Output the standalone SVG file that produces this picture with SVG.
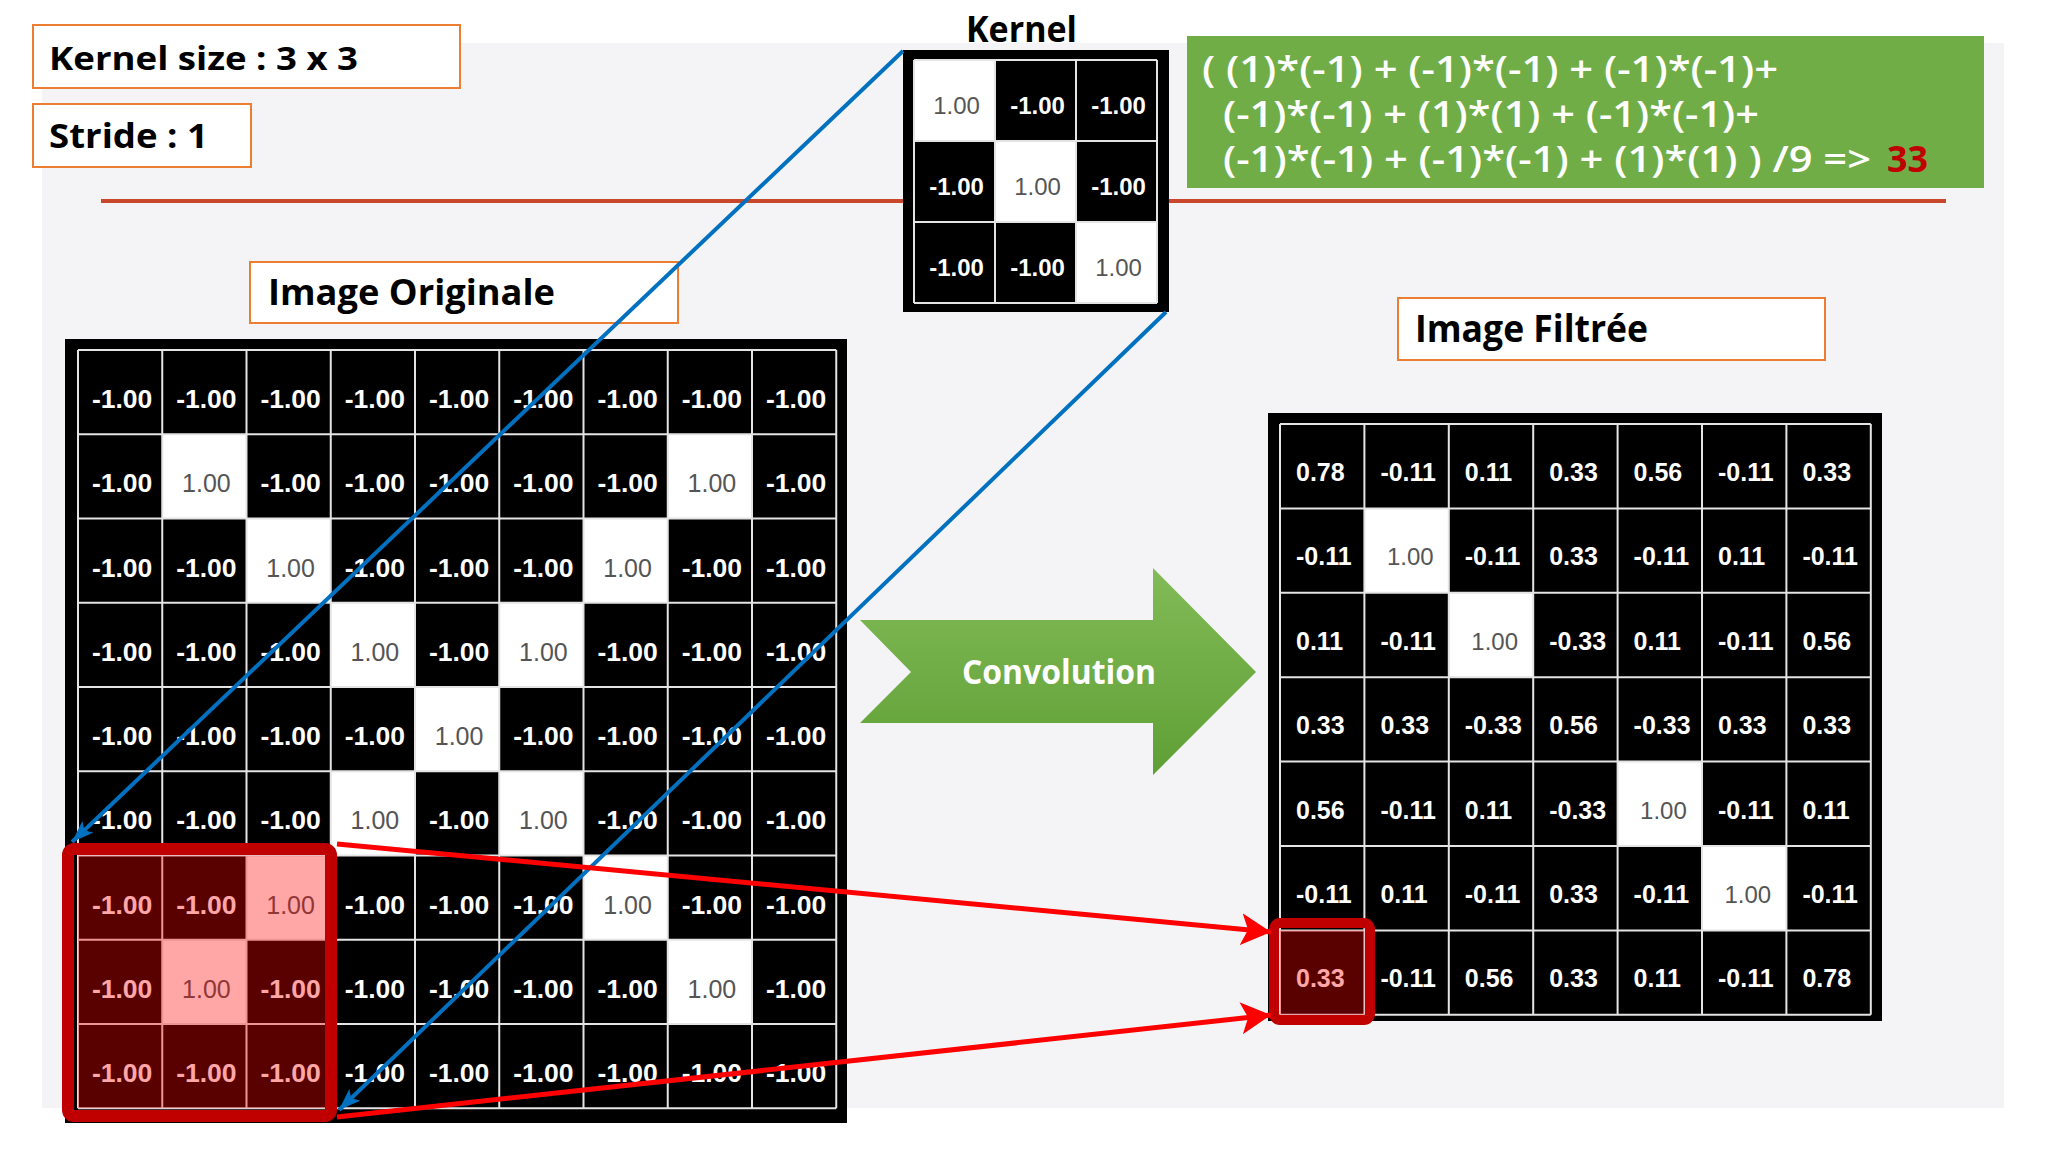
<svg xmlns="http://www.w3.org/2000/svg" width="2048" height="1152" viewBox="0 0 2048 1152">
<style>
.lbl{fill:#fff;stroke:#ED7D31;stroke-width:2}
.lbltxt{font-family:"Open Sans","Noto Sans",sans-serif;font-weight:700;fill:#000}
.blk{fill:#000}
.wht{fill:#fff}
.gl{fill:none;stroke:#e4e4e4;stroke-width:2}
.n{font-family:"Liberation Sans",Arial,sans-serif;font-weight:700;fill:#fff;text-anchor:middle;font-size:26.5px}
.p{font-family:"Liberation Sans",Arial,sans-serif;font-weight:400;fill:#555;text-anchor:middle;font-size:25px}
.kn{font-family:"Liberation Sans",Arial,sans-serif;font-weight:700;fill:#fff;text-anchor:middle;font-size:24px}
.kp{font-family:"Liberation Sans",Arial,sans-serif;font-weight:400;fill:#555;text-anchor:middle;font-size:24px}
.fn{font-family:"Liberation Sans",Arial,sans-serif;font-weight:700;fill:#fff;font-size:25px}
.fp{font-family:"Liberation Sans",Arial,sans-serif;font-weight:400;fill:#555;font-size:24px}
.ovl{fill:#FF0000;fill-opacity:0.35}
.hbox{fill:none;stroke:#C00000}
.ftxt{font-family:"Open Sans","Noto Sans",sans-serif;font-weight:600;fill:#fff;font-size:36px}
.blue{fill:none;stroke:#0070C0;stroke-width:4}
.red{fill:none;stroke:#FF0000;stroke-width:5}
</style>
<defs>
<linearGradient id="gArrow" x1="0" y1="0" x2="0" y2="1">
<stop offset="0" stop-color="#82BB58"/>
<stop offset="1" stop-color="#5F9F35"/>
</linearGradient>
<marker id="ahRed" viewBox="0 0 30 32" refX="30" refY="16" markerWidth="30" markerHeight="32" markerUnits="userSpaceOnUse" orient="auto">
<path d="M0,0 L30,16 L0,32 L7,16 Z" fill="#FF0000"/>
</marker>
<marker id="ahBlue" viewBox="0 0 22 16" refX="22" refY="8" markerWidth="22" markerHeight="16" markerUnits="userSpaceOnUse" orient="auto">
<path d="M0,0 L22,8 L0,16 L5,8 Z" fill="#0070C0"/>
</marker>
</defs>

<rect x="0" y="0" width="2048" height="1152" fill="#ffffff"/>
<rect id="panel" x="42" y="43" width="1962" height="1065" fill="#F4F4F6"/>
<line id="separator" x1="101" y1="201" x2="1946" y2="201" stroke="#C9472A" stroke-width="4"/>

<g id="kernel-size">
<rect class="lbl" x="33" y="25" width="427" height="63"/>
<text class="lbltxt" x="49" y="70" font-size="33" textLength="309" lengthAdjust="spacingAndGlyphs">Kernel size : 3 x 3</text>
</g>
<g id="stride">
<rect class="lbl" x="33" y="104" width="218" height="63"/>
<text class="lbltxt" x="49" y="148" font-size="34" textLength="159" lengthAdjust="spacingAndGlyphs">Stride : 1</text>
</g>

<g id="kernel">
<text class="lbltxt" x="966" y="42" font-size="35" textLength="111" lengthAdjust="spacingAndGlyphs">Kernel</text>
<rect class="blk" x="903" y="50" width="266" height="262"/>
<rect class="wht" x="914" y="60" width="81" height="81"/>
<rect class="wht" x="995" y="141" width="81" height="81"/>
<rect class="wht" x="1076" y="222" width="81" height="81"/>
<path class="gl" d="M914 60V303M995 60V303M1076 60V303M1157 60V303M914 60H1157M914 141H1157M914 222H1157M914 303H1157"/>
<text class="kp" x="956.5" y="113.5">1.00</text>
<text class="kn" x="1037.5" y="113.5">-1.00</text>
<text class="kn" x="1118.5" y="113.5">-1.00</text>
<text class="kn" x="956.5" y="194.5">-1.00</text>
<text class="kp" x="1037.5" y="194.5">1.00</text>
<text class="kn" x="1118.5" y="194.5">-1.00</text>
<text class="kn" x="956.5" y="275.5">-1.00</text>
<text class="kn" x="1037.5" y="275.5">-1.00</text>
<text class="kp" x="1118.5" y="275.5">1.00</text>
</g>

<g id="formula">
<rect x="1187" y="36" width="797" height="152" fill="#70AD47"/>
<text class="ftxt" x="1202" y="82" textLength="576" lengthAdjust="spacingAndGlyphs">( (1)*(-1) + (-1)*(-1) + (-1)*(-1)+</text>
<text class="ftxt" x="1223" y="127" textLength="536" lengthAdjust="spacingAndGlyphs">(-1)*(-1) + (1)*(1) + (-1)*(-1)+</text>
<text class="ftxt" x="1223" y="172" textLength="648" lengthAdjust="spacingAndGlyphs">(-1)*(-1) + (-1)*(-1) + (1)*(1) ) /9 =&gt;</text>
<text x="1887" y="172" font-family="Open Sans, Noto Sans, sans-serif" font-weight="700" font-size="36" fill="#C00000" textLength="41" lengthAdjust="spacingAndGlyphs">33</text>
</g>

<g id="image-originale-label">
<rect class="lbl" x="250" y="262" width="428" height="61"/>
<text class="lbltxt" x="268" y="305" font-size="36" textLength="287" lengthAdjust="spacingAndGlyphs">Image Originale</text>
</g>

<g id="image-originale">
<rect class="blk" x="65" y="339" width="782" height="784"/>
<rect class="wht" x="162.25" y="434.25" width="84.25" height="84.25"/>
<rect class="wht" x="667.75" y="434.25" width="84.25" height="84.25"/>
<rect class="wht" x="246.5" y="518.5" width="84.25" height="84.25"/>
<rect class="wht" x="583.5" y="518.5" width="84.25" height="84.25"/>
<rect class="wht" x="330.75" y="602.75" width="84.25" height="84.25"/>
<rect class="wht" x="499.25" y="602.75" width="84.25" height="84.25"/>
<rect class="wht" x="415" y="687" width="84.25" height="84.25"/>
<rect class="wht" x="330.75" y="771.25" width="84.25" height="84.25"/>
<rect class="wht" x="499.25" y="771.25" width="84.25" height="84.25"/>
<rect class="wht" x="246.5" y="855.5" width="84.25" height="84.25"/>
<rect class="wht" x="583.5" y="855.5" width="84.25" height="84.25"/>
<rect class="wht" x="162.25" y="939.75" width="84.25" height="84.25"/>
<rect class="wht" x="667.75" y="939.75" width="84.25" height="84.25"/>
<path class="gl" d="M78 350V1108.25M162.25 350V1108.25M246.5 350V1108.25M330.75 350V1108.25M415 350V1108.25M499.25 350V1108.25M583.5 350V1108.25M667.75 350V1108.25M752 350V1108.25M836.25 350V1108.25M78 350H836.25M78 434.25H836.25M78 518.5H836.25M78 602.75H836.25M78 687H836.25M78 771.25H836.25M78 855.5H836.25M78 939.75H836.25M78 1024H836.25M78 1108.25H836.25"/>
<!-- row 0 -->
<text class="n" x="122.1" y="408">-1.00</text><text class="n" x="206.4" y="408">-1.00</text><text class="n" x="290.6" y="408">-1.00</text><text class="n" x="374.9" y="408">-1.00</text><text class="n" x="459.1" y="408">-1.00</text><text class="n" x="543.4" y="408">-1.00</text><text class="n" x="627.6" y="408">-1.00</text><text class="n" x="711.9" y="408">-1.00</text><text class="n" x="796.1" y="408">-1.00</text>
<!-- row 1 -->
<text class="n" x="122.1" y="492.3">-1.00</text><text class="p" x="206.4" y="492.3">1.00</text><text class="n" x="290.6" y="492.3">-1.00</text><text class="n" x="374.9" y="492.3">-1.00</text><text class="n" x="459.1" y="492.3">-1.00</text><text class="n" x="543.4" y="492.3">-1.00</text><text class="n" x="627.6" y="492.3">-1.00</text><text class="p" x="711.9" y="492.3">1.00</text><text class="n" x="796.1" y="492.3">-1.00</text>
<!-- row 2 -->
<text class="n" x="122.1" y="576.5">-1.00</text><text class="n" x="206.4" y="576.5">-1.00</text><text class="p" x="290.6" y="576.5">1.00</text><text class="n" x="374.9" y="576.5">-1.00</text><text class="n" x="459.1" y="576.5">-1.00</text><text class="n" x="543.4" y="576.5">-1.00</text><text class="p" x="627.6" y="576.5">1.00</text><text class="n" x="711.9" y="576.5">-1.00</text><text class="n" x="796.1" y="576.5">-1.00</text>
<!-- row 3 -->
<text class="n" x="122.1" y="660.8">-1.00</text><text class="n" x="206.4" y="660.8">-1.00</text><text class="n" x="290.6" y="660.8">-1.00</text><text class="p" x="374.9" y="660.8">1.00</text><text class="n" x="459.1" y="660.8">-1.00</text><text class="p" x="543.4" y="660.8">1.00</text><text class="n" x="627.6" y="660.8">-1.00</text><text class="n" x="711.9" y="660.8">-1.00</text><text class="n" x="796.1" y="660.8">-1.00</text>
<!-- row 4 -->
<text class="n" x="122.1" y="745">-1.00</text><text class="n" x="206.4" y="745">-1.00</text><text class="n" x="290.6" y="745">-1.00</text><text class="n" x="374.9" y="745">-1.00</text><text class="p" x="459.1" y="745">1.00</text><text class="n" x="543.4" y="745">-1.00</text><text class="n" x="627.6" y="745">-1.00</text><text class="n" x="711.9" y="745">-1.00</text><text class="n" x="796.1" y="745">-1.00</text>
<!-- row 5 -->
<text class="n" x="122.1" y="829.3">-1.00</text><text class="n" x="206.4" y="829.3">-1.00</text><text class="n" x="290.6" y="829.3">-1.00</text><text class="p" x="374.9" y="829.3">1.00</text><text class="n" x="459.1" y="829.3">-1.00</text><text class="p" x="543.4" y="829.3">1.00</text><text class="n" x="627.6" y="829.3">-1.00</text><text class="n" x="711.9" y="829.3">-1.00</text><text class="n" x="796.1" y="829.3">-1.00</text>
<!-- row 6 -->
<text class="n" x="122.1" y="913.5">-1.00</text><text class="n" x="206.4" y="913.5">-1.00</text><text class="p" x="290.6" y="913.5">1.00</text><text class="n" x="374.9" y="913.5">-1.00</text><text class="n" x="459.1" y="913.5">-1.00</text><text class="n" x="543.4" y="913.5">-1.00</text><text class="p" x="627.6" y="913.5">1.00</text><text class="n" x="711.9" y="913.5">-1.00</text><text class="n" x="796.1" y="913.5">-1.00</text>
<!-- row 7 -->
<text class="n" x="122.1" y="997.8">-1.00</text><text class="p" x="206.4" y="997.8">1.00</text><text class="n" x="290.6" y="997.8">-1.00</text><text class="n" x="374.9" y="997.8">-1.00</text><text class="n" x="459.1" y="997.8">-1.00</text><text class="n" x="543.4" y="997.8">-1.00</text><text class="n" x="627.6" y="997.8">-1.00</text><text class="p" x="711.9" y="997.8">1.00</text><text class="n" x="796.1" y="997.8">-1.00</text>
<!-- row 8 -->
<text class="n" x="122.1" y="1082">-1.00</text><text class="n" x="206.4" y="1082">-1.00</text><text class="n" x="290.6" y="1082">-1.00</text><text class="n" x="374.9" y="1082">-1.00</text><text class="n" x="459.1" y="1082">-1.00</text><text class="n" x="543.4" y="1082">-1.00</text><text class="n" x="627.6" y="1082">-1.00</text><text class="n" x="711.9" y="1082">-1.00</text><text class="n" x="796.1" y="1082">-1.00</text>
<!-- highlighted window -->
<rect class="ovl" x="78" y="855.5" width="252.75" height="252.75"/>
<rect class="hbox" x="68" y="849" width="263" height="267" rx="6" stroke-width="12"/>
</g>

<g id="convolution-arrow">
<polygon points="860,620 1153,620 1153,568 1256,672 1153,775 1153,723 860,723 911,672" fill="url(#gArrow)"/>
<text class="lbltxt" x="962" y="684" font-size="34" style="fill:#fff" textLength="194" lengthAdjust="spacingAndGlyphs">Convolution</text>
</g>

<g id="image-filtree-label">
<rect class="lbl" x="1398" y="298" width="427" height="62"/>
<text class="lbltxt" x="1415" y="342" font-size="37" textLength="233" lengthAdjust="spacingAndGlyphs">Image Filtrée</text>
</g>

<g id="image-filtree">
<rect class="blk" x="1268" y="413" width="614" height="608"/>
<rect class="wht" x="1364.4" y="508.4" width="84.4" height="84.4"/>
<rect class="wht" x="1448.8" y="592.8" width="84.4" height="84.4"/>
<rect class="wht" x="1617.6" y="761.6" width="84.4" height="84.4"/>
<rect class="wht" x="1702" y="846" width="84.4" height="84.4"/>
<path class="gl" d="M1280 424V1014.8M1364.4 424V1014.8M1448.8 424V1014.8M1533.2 424V1014.8M1617.6 424V1014.8M1702 424V1014.8M1786.4 424V1014.8M1870.8 424V1014.8M1280 424H1870.8M1280 508.4H1870.8M1280 592.8H1870.8M1280 677.2H1870.8M1280 761.6H1870.8M1280 846H1870.8M1280 930.4H1870.8M1280 1014.8H1870.8"/>
<!-- row 0 -->
<text class="fn" x="1296" y="481">0.78</text><text class="fn" x="1380.4" y="481">-0.11</text><text class="fn" x="1464.8" y="481">0.11</text><text class="fn" x="1549.2" y="481">0.33</text><text class="fn" x="1633.6" y="481">0.56</text><text class="fn" x="1718" y="481">-0.11</text><text class="fn" x="1802.4" y="481">0.33</text>
<!-- row 1 -->
<text class="fn" x="1296" y="565.4">-0.11</text><text class="fp" x="1386.9" y="565.4">1.00</text><text class="fn" x="1464.8" y="565.4">-0.11</text><text class="fn" x="1549.2" y="565.4">0.33</text><text class="fn" x="1633.6" y="565.4">-0.11</text><text class="fn" x="1718" y="565.4">0.11</text><text class="fn" x="1802.4" y="565.4">-0.11</text>
<!-- row 2 -->
<text class="fn" x="1296" y="649.8">0.11</text><text class="fn" x="1380.4" y="649.8">-0.11</text><text class="fp" x="1471.3" y="649.8">1.00</text><text class="fn" x="1549.2" y="649.8">-0.33</text><text class="fn" x="1633.6" y="649.8">0.11</text><text class="fn" x="1718" y="649.8">-0.11</text><text class="fn" x="1802.4" y="649.8">0.56</text>
<!-- row 3 -->
<text class="fn" x="1296" y="734.2">0.33</text><text class="fn" x="1380.4" y="734.2">0.33</text><text class="fn" x="1464.8" y="734.2">-0.33</text><text class="fn" x="1549.2" y="734.2">0.56</text><text class="fn" x="1633.6" y="734.2">-0.33</text><text class="fn" x="1718" y="734.2">0.33</text><text class="fn" x="1802.4" y="734.2">0.33</text>
<!-- row 4 -->
<text class="fn" x="1296" y="818.6">0.56</text><text class="fn" x="1380.4" y="818.6">-0.11</text><text class="fn" x="1464.8" y="818.6">0.11</text><text class="fn" x="1549.2" y="818.6">-0.33</text><text class="fp" x="1640.1" y="818.6">1.00</text><text class="fn" x="1718" y="818.6">-0.11</text><text class="fn" x="1802.4" y="818.6">0.11</text>
<!-- row 5 -->
<text class="fn" x="1296" y="903">-0.11</text><text class="fn" x="1380.4" y="903">0.11</text><text class="fn" x="1464.8" y="903">-0.11</text><text class="fn" x="1549.2" y="903">0.33</text><text class="fn" x="1633.6" y="903">-0.11</text><text class="fp" x="1724.5" y="903">1.00</text><text class="fn" x="1802.4" y="903">-0.11</text>
<!-- row 6 -->
<text class="fn" x="1296" y="987.4">0.33</text><text class="fn" x="1380.4" y="987.4">-0.11</text><text class="fn" x="1464.8" y="987.4">0.56</text><text class="fn" x="1549.2" y="987.4">0.33</text><text class="fn" x="1633.6" y="987.4">0.11</text><text class="fn" x="1718" y="987.4">-0.11</text><text class="fn" x="1802.4" y="987.4">0.78</text>
<rect class="ovl" x="1280" y="930.4" width="84.4" height="84.4"/>
<rect class="hbox" x="1274" y="923" width="96" height="97" rx="6" stroke-width="10"/>
</g>

<g id="connectors">
<line class="blue" x1="903" y1="51" x2="72" y2="842" marker-end="url(#ahBlue)"/>
<line class="blue" x1="1166" y1="312" x2="339" y2="1110" marker-end="url(#ahBlue)"/>
<line class="red" x1="337" y1="844" x2="1271" y2="932" marker-end="url(#ahRed)"/>
<line class="red" x1="337" y1="1117" x2="1271" y2="1015" marker-end="url(#ahRed)"/>
</g>
</svg>
